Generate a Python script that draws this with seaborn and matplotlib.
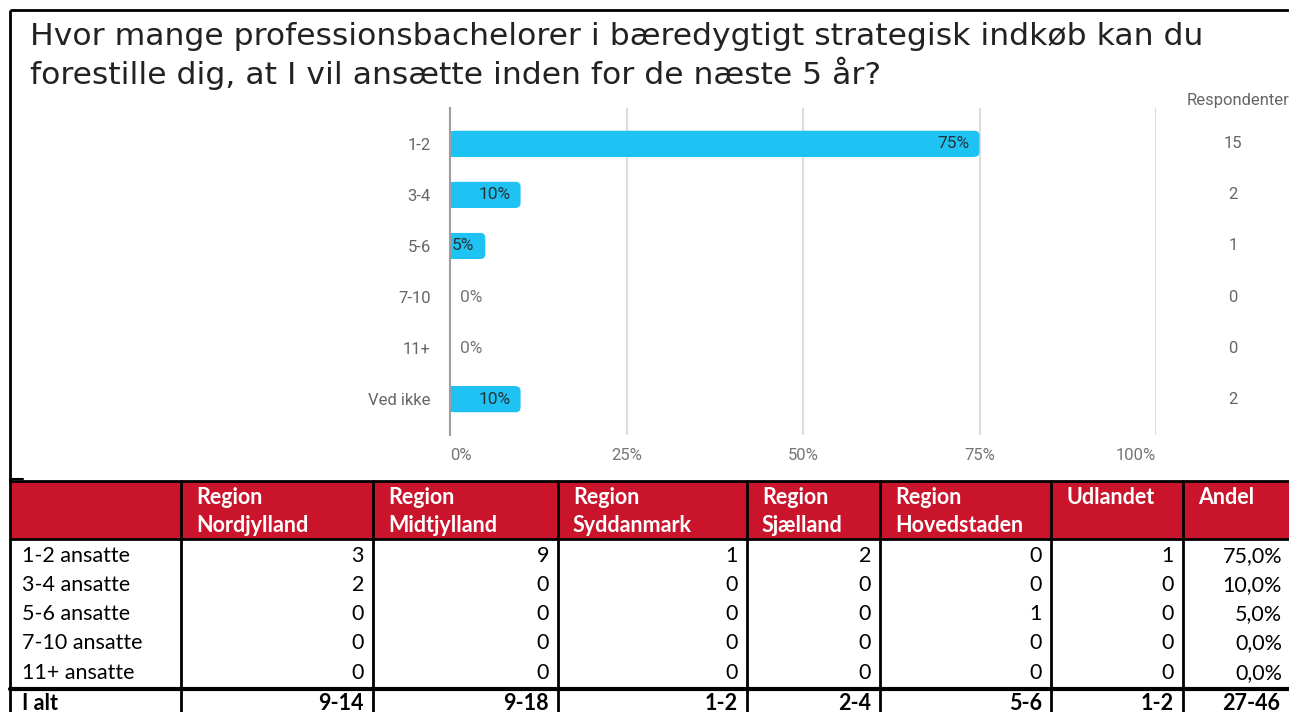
import matplotlib
matplotlib.use("Agg")
import matplotlib.pyplot as plt
from matplotlib.patches import FancyBboxPatch, Rectangle
from matplotlib.transforms import blended_transform_factory
import pandas as pd
import seaborn as sns

# data
svar = ["1-2", "3-4", "5-6", "7-10", "11+", "Ved ikke"]
procent = [75, 10, 5, 0, 0, 10]
respondenter = [15, 2, 1, 0, 0, 2]
x_ticks = [0, 25, 50, 75, 100]

titel = ["Hvor mange professionsbachelorer i bæredygtigt strategisk indkøb kan du",
         "forestille dig, at I vil ansætte inden for de næste 5 år?"]

kolonner = ["Region\nNordjylland", "Region\nMidtjylland", "Region\nSyddanmark",
            "Region\nSjælland", "Region\nHovedstaden", "Udlandet", "Andel"]
raekker = ["1-2 ansatte", "3-4 ansatte", "5-6 ansatte", "7-10 ansatte", "11+ ansatte"]
nordjylland = [3, 2, 0, 0, 0]
midtjylland = [9, 0, 0, 0, 0]
syddanmark = [1, 0, 0, 0, 0]
sjaelland = [2, 0, 0, 0, 0]
hovedstaden = [0, 0, 1, 0, 0]
udlandet = [1, 0, 0, 0, 0]
andel = [75.0, 10.0, 5.0, 0.0, 0.0]
i_alt = ["9-14", "9-18", "1-2", "2-4", "5-6", "1-2", "27-46"]

sns.set_theme(style="white")
plt.rcParams['font.family'] = ['Roboto', 'DejaVu Sans']

W, H = 1289, 712
fig = plt.figure(figsize=(W / 100, H / 100), dpi=100)

# overlay i pixel-koordinater til ramme, titel og tabel
lay = fig.add_axes([0, 0, 1, 1])
lay.set_xlim(0, W)
lay.set_ylim(H, 0)
lay.axis("off")

# ramme omkring diagrammet
lay.plot([10, W], [10, 10], color="black", lw=2, solid_capstyle="butt")
lay.plot([10, 10], [10, 481], color="black", lw=2, solid_capstyle="butt")
lay.plot([10, 23], [479, 479], color="black", lw=1.5)

lay.text(30, 45, titel[0], fontsize=22.6, color="#222222", family="DejaVu Sans", va="baseline")
lay.text(30, 84, titel[1], fontsize=22.6, color="#222222", family="DejaVu Sans", va="baseline")

# søjlediagram
ax = fig.add_axes([450 / W, (H - 435) / H, 706 / W, 327 / H])
df = pd.DataFrame({"svar": svar, "procent": procent})
sns.barplot(data=df, x="procent", y="svar", orient="h", color="#1FC3F3",
            saturation=1, width=0.51, ax=ax)
ax.set_xlim(0, 100)
ax.set_ylim(len(svar) - 0.3, -0.7)

# afrundede søjle-ender
asp = (1 / 51) / (100 / 706)
r = 5 * 100 / 706
for p in list(ax.patches):
    x0, y0, w, h = p.get_x(), p.get_y(), p.get_width(), p.get_height()
    fc = p.get_facecolor()
    p.remove()
    if w <= 0:
        continue
    ax.add_patch(FancyBboxPatch((x0, y0), w, h, boxstyle=f"round,pad=0,rounding_size={r}",
                                mutation_aspect=asp, fc=fc, ec="none", zorder=2))
    ax.add_patch(Rectangle((x0, y0), max(w - r, 0), h, fc=fc, ec="none", zorder=2))

ax.set_xlabel("")
ax.set_ylabel("")
for s in ["top", "right", "bottom"]:
    ax.spines[s].set_visible(False)
ax.spines["left"].set_color("#9e9e9e")
ax.spines["left"].set_linewidth(1.5)
ax.spines["left"].set_zorder(5)
for t in x_ticks[1:]:
    ax.axvline(t, color="#dcdcdc", lw=1.5, zorder=0)
ax.set_xticks(x_ticks)
ax.set_xticklabels([f"{t}%" for t in x_ticks], color="#757575", fontsize=12)
ax.tick_params(axis="x", length=0, pad=9)
ax.tick_params(axis="y", length=0, pad=14, labelcolor="#666666", labelsize=12)
tl = ax.get_xticklabels()
tl[0].set_ha("left")
tl[-1].set_ha("right")

for i, p in enumerate(procent):
    lab = f"{p}%"
    if p >= 10:
        ax.annotate(lab, (p, i), xytext=(-7, 0), textcoords="offset points",
                    ha="right", va="center", fontsize=12.5, color="#263238")
    elif p > 0:
        ax.annotate(lab, (0, i), xytext=(1.5, 0), textcoords="offset points",
                    ha="left", va="center", fontsize=12.5, color="#263238")
    else:
        ax.annotate(lab, (0, i), xytext=(7, 0), textcoords="offset points",
                    ha="left", va="center", fontsize=12.5, color="#757575")

tr = blended_transform_factory(ax.transAxes, ax.transData)
for i, n in enumerate(respondenter):
    ax.text((1233 - 450) / 706, i, str(n), transform=tr, ha="center", va="center",
            fontsize=12, color="#666666")
ax.text((1289 - 450) / 706, (435 - 100) / 327, "Respondenter", transform=ax.transAxes,
        ha="right", va="center", fontsize=12, color="#666666", clip_on=False)

# tabel
kant = [10, 181, 373, 558, 747, 880, 1051, 1183, 1289]
top, hoved_bund = 481, 539
rk_y = [556, 585, 614, 643, 673]
sum_linje, sum_y = 689, 704
tfont = ["Lato", "DejaVu Sans"]
fs = 15.5

lay.fill_between([kant[0], W], top, hoved_bund, color="#C9142B", lw=0)
lay.plot([kant[0], W], [top, top], color="black", lw=2)
lay.plot([kant[0], W], [hoved_bund, hoved_bund], color="black", lw=2)
lay.plot([kant[0], W], [sum_linje, sum_linje], color="black", lw=3)
for x in kant[:-1]:
    lay.plot([x, x], [top, H], color="black", lw=2)

for j, navn in enumerate(kolonner):
    for k, linje in enumerate(navn.split("\n")):
        lay.text(kant[j + 1] + 15, 497 + 28 * k, linje, ha="left", va="center",
                 fontsize=fs, fontweight="bold", color="white", family=tfont)

vaerdier = [nordjylland, midtjylland, syddanmark, sjaelland, hovedstaden, udlandet]
for i, rk in enumerate(raekker):
    lay.text(kant[0] + 12, rk_y[i], rk, ha="left", va="center", fontsize=fs,
             color="black", family=tfont)
    for j, kol in enumerate(vaerdier):
        lay.text(kant[j + 2] - 9, rk_y[i], str(kol[i]), ha="right", va="center",
                 fontsize=fs, color="black", family=tfont)
    lay.text(kant[-1] - 7, rk_y[i], f"{andel[i]:.1f}%".replace(".", ","), ha="right",
             va="center", fontsize=fs, color="black", family=tfont)

lay.text(kant[0] + 12, sum_y, "I alt", ha="left", va="center", fontsize=fs,
         fontweight="bold", color="black", family=tfont)
for j, v in enumerate(i_alt):
    lay.text(kant[j + 2] - 9, sum_y, v, ha="right", va="center", fontsize=fs,
             fontweight="bold", color="black", family=tfont)

fig.savefig("out.png", dpi=100)
